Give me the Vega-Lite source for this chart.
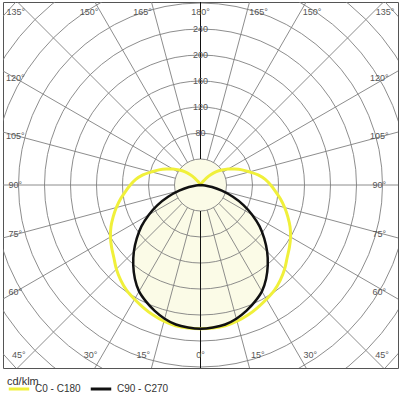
{
  "$schema": "https://vega.github.io/schema/vega-lite/v6.json",
  "width": 395,
  "height": 366,
  "padding": {"left": 3, "top": 2, "right": 2, "bottom": 0},
  "autosize": {"type": "pad"},
  "config": {
    "view": {"stroke": "#555555", "strokeWidth": 1},
    "font": "Liberation Sans"
  },
  "datasets": {
    "curves": [
      {"c": "C0 - C180", "g": -150, "i": 0},
      {"c": "C0 - C180", "g": -145, "i": 6},
      {"c": "C0 - C180", "g": -140, "i": 14},
      {"c": "C0 - C180", "g": -135, "i": 23},
      {"c": "C0 - C180", "g": -130, "i": 32},
      {"c": "C0 - C180", "g": -125, "i": 40},
      {"c": "C0 - C180", "g": -120, "i": 49},
      {"c": "C0 - C180", "g": -115, "i": 58},
      {"c": "C0 - C180", "g": -110, "i": 68},
      {"c": "C0 - C180", "g": -105, "i": 78},
      {"c": "C0 - C180", "g": -100, "i": 90},
      {"c": "C0 - C180", "g": -95, "i": 100},
      {"c": "C0 - C180", "g": -90, "i": 108},
      {"c": "C0 - C180", "g": -85, "i": 116},
      {"c": "C0 - C180", "g": -80, "i": 125},
      {"c": "C0 - C180", "g": -75, "i": 134},
      {"c": "C0 - C180", "g": -70, "i": 143},
      {"c": "C0 - C180", "g": -65, "i": 152},
      {"c": "C0 - C180", "g": -60, "i": 160},
      {"c": "C0 - C180", "g": -55, "i": 167},
      {"c": "C0 - C180", "g": -50, "i": 174},
      {"c": "C0 - C180", "g": -45, "i": 183},
      {"c": "C0 - C180", "g": -40, "i": 191},
      {"c": "C0 - C180", "g": -35, "i": 198},
      {"c": "C0 - C180", "g": -30, "i": 203},
      {"c": "C0 - C180", "g": -25, "i": 208},
      {"c": "C0 - C180", "g": -20, "i": 213},
      {"c": "C0 - C180", "g": -15, "i": 217},
      {"c": "C0 - C180", "g": -10, "i": 220},
      {"c": "C0 - C180", "g": -5, "i": 221},
      {"c": "C0 - C180", "g": 0, "i": 221},
      {"c": "C0 - C180", "g": 5, "i": 221},
      {"c": "C0 - C180", "g": 10, "i": 220},
      {"c": "C0 - C180", "g": 15, "i": 217},
      {"c": "C0 - C180", "g": 20, "i": 213},
      {"c": "C0 - C180", "g": 25, "i": 208},
      {"c": "C0 - C180", "g": 30, "i": 203},
      {"c": "C0 - C180", "g": 35, "i": 198},
      {"c": "C0 - C180", "g": 40, "i": 191},
      {"c": "C0 - C180", "g": 45, "i": 183},
      {"c": "C0 - C180", "g": 50, "i": 174},
      {"c": "C0 - C180", "g": 55, "i": 167},
      {"c": "C0 - C180", "g": 60, "i": 160},
      {"c": "C0 - C180", "g": 65, "i": 152},
      {"c": "C0 - C180", "g": 70, "i": 143},
      {"c": "C0 - C180", "g": 75, "i": 134},
      {"c": "C0 - C180", "g": 80, "i": 125},
      {"c": "C0 - C180", "g": 85, "i": 116},
      {"c": "C0 - C180", "g": 90, "i": 108},
      {"c": "C0 - C180", "g": 95, "i": 100},
      {"c": "C0 - C180", "g": 100, "i": 90},
      {"c": "C0 - C180", "g": 105, "i": 78},
      {"c": "C0 - C180", "g": 110, "i": 68},
      {"c": "C0 - C180", "g": 115, "i": 58},
      {"c": "C0 - C180", "g": 120, "i": 49},
      {"c": "C0 - C180", "g": 125, "i": 40},
      {"c": "C0 - C180", "g": 130, "i": 32},
      {"c": "C0 - C180", "g": 135, "i": 23},
      {"c": "C0 - C180", "g": 140, "i": 14},
      {"c": "C0 - C180", "g": 145, "i": 6},
      {"c": "C0 - C180", "g": 150, "i": 0},
      {"c": "C90 - C270", "g": -90, "i": 0},
      {"c": "C90 - C270", "g": -85, "i": 7},
      {"c": "C90 - C270", "g": -80, "i": 18},
      {"c": "C90 - C270", "g": -75, "i": 34},
      {"c": "C90 - C270", "g": -70, "i": 53},
      {"c": "C90 - C270", "g": -65, "i": 73},
      {"c": "C90 - C270", "g": -60, "i": 92},
      {"c": "C90 - C270", "g": -55, "i": 111},
      {"c": "C90 - C270", "g": -50, "i": 128},
      {"c": "C90 - C270", "g": -45, "i": 145},
      {"c": "C90 - C270", "g": -40, "i": 161},
      {"c": "C90 - C270", "g": -35, "i": 176},
      {"c": "C90 - C270", "g": -30, "i": 189},
      {"c": "C90 - C270", "g": -25, "i": 198},
      {"c": "C90 - C270", "g": -20, "i": 206},
      {"c": "C90 - C270", "g": -15, "i": 213},
      {"c": "C90 - C270", "g": -10, "i": 218},
      {"c": "C90 - C270", "g": -5, "i": 220},
      {"c": "C90 - C270", "g": 0, "i": 221},
      {"c": "C90 - C270", "g": 5, "i": 220},
      {"c": "C90 - C270", "g": 10, "i": 218},
      {"c": "C90 - C270", "g": 15, "i": 213},
      {"c": "C90 - C270", "g": 20, "i": 206},
      {"c": "C90 - C270", "g": 25, "i": 198},
      {"c": "C90 - C270", "g": 30, "i": 189},
      {"c": "C90 - C270", "g": 35, "i": 176},
      {"c": "C90 - C270", "g": 40, "i": 161},
      {"c": "C90 - C270", "g": 45, "i": 145},
      {"c": "C90 - C270", "g": 50, "i": 128},
      {"c": "C90 - C270", "g": 55, "i": 111},
      {"c": "C90 - C270", "g": 60, "i": 92},
      {"c": "C90 - C270", "g": 65, "i": 73},
      {"c": "C90 - C270", "g": 70, "i": 53},
      {"c": "C90 - C270", "g": 75, "i": 34},
      {"c": "C90 - C270", "g": 80, "i": 18},
      {"c": "C90 - C270", "g": 85, "i": 7},
      {"c": "C90 - C270", "g": 90, "i": 0}
    ],
    "circles": [
      {"r": 40}, {"r": 80}, {"r": 120}, {"r": 160}, {"r": 200},
      {"r": 240}, {"r": 280}, {"r": 320}, {"r": 360}, {"r": 400}, {"r": 440}
    ],
    "rays": [
      {"g": -165}, {"g": -150}, {"g": -135}, {"g": -120}, {"g": -105}, {"g": -90},
      {"g": -75}, {"g": -60}, {"g": -45}, {"g": -30}, {"g": -15}, {"g": 0},
      {"g": 15}, {"g": 30}, {"g": 45}, {"g": 60}, {"g": 75}, {"g": 90},
      {"g": 105}, {"g": 120}, {"g": 135}, {"g": 150}, {"g": 165}, {"g": 180}
    ],
    "sideLabels": [
      {"t": "120°", "g": -120}, {"t": "105°", "g": -105}, {"t": "90°", "g": -90},
      {"t": "75°", "g": -75}, {"t": "60°", "g": -60},
      {"t": "120°", "g": 120}, {"t": "105°", "g": 105}, {"t": "90°", "g": 90},
      {"t": "75°", "g": 75}, {"t": "60°", "g": 60}
    ],
    "edgeLabels": [
      {"t": "135°", "g": -135}, {"t": "150°", "g": -150}, {"t": "165°", "g": -165},
      {"t": "180°", "g": 180}, {"t": "165°", "g": 165}, {"t": "150°", "g": 150},
      {"t": "135°", "g": 135},
      {"t": "45°", "g": -45}, {"t": "30°", "g": -30}, {"t": "15°", "g": -15},
      {"t": "0°", "g": 0}, {"t": "15°", "g": 15}, {"t": "30°", "g": 30},
      {"t": "45°", "g": 45}
    ],
    "valueLabels": [
      {"v": 80}, {"v": 120}, {"v": 160}, {"v": 200}, {"v": 240}
    ]
  },
  "layer": [
    {
      "data": {"name": "curves"},
      "transform": [
        {"filter": "datum.c == 'C90 - C270'"},
        {"calculate": "datum.i*sin(datum.g*PI/180)", "as": "x"},
        {"calculate": "-datum.i*cos(datum.g*PI/180)", "as": "y"}
      ],
      "mark": {"type": "line", "fill": "#fbfbe7", "strokeOpacity": 0},
      "encoding": {
        "x": {"field": "x", "type": "quantitative", "scale": {"domain": [-303.85, 303.85], "nice": false, "zero": false}, "axis": null},
        "y": {"field": "y", "type": "quantitative", "scale": {"domain": [-281.54, 281.54], "nice": false, "zero": false}, "axis": null},
        "order": {"field": "g", "type": "quantitative"}
      }
    },
    {
      "data": {"name": "circles"},
      "transform": [{"filter": "datum.r == 40"}],
      "mark": {"type": "arc", "theta": 0, "theta2": 6.2832, "fill": "#fbfbe7"},
      "encoding": {
        "radius": {"field": "r", "type": "quantitative", "stack": null, "scale": {"type": "linear", "domain": [0, 400], "range": [0, 260], "zero": true}}
      }
    },
    {
      "data": {"name": "circles"},
      "mark": {"type": "arc", "theta": 0, "theta2": 6.2832, "filled": false, "stroke": "#808080", "strokeWidth": 0.9, "clip": true},
      "encoding": {
        "radius": {"field": "r", "type": "quantitative", "stack": null, "scale": {"type": "linear", "domain": [0, 400], "range": [0, 260], "zero": true}}
      }
    },
    {
      "data": {"name": "rays"},
      "transform": [
        {"filter": "datum.g != 0 && datum.g != 180"},
        {"calculate": "40*sin(datum.g*PI/180)", "as": "x"},
        {"calculate": "-40*cos(datum.g*PI/180)", "as": "y"},
        {"calculate": "900*sin(datum.g*PI/180)", "as": "x2"},
        {"calculate": "-900*cos(datum.g*PI/180)", "as": "y2"}
      ],
      "mark": {"type": "rule", "stroke": "#808080", "strokeWidth": 0.9, "clip": true},
      "encoding": {
        "x": {"field": "x", "type": "quantitative"},
        "y": {"field": "y", "type": "quantitative"},
        "x2": {"field": "x2"},
        "y2": {"field": "y2"}
      }
    },
    {
      "data": {"name": "rays"},
      "transform": [
        {"filter": "datum.g == 0 || datum.g == 180"},
        {"calculate": "40*sin(datum.g*PI/180)", "as": "x"},
        {"calculate": "-40*cos(datum.g*PI/180)", "as": "y"},
        {"calculate": "900*sin(datum.g*PI/180)", "as": "x2"},
        {"calculate": "-900*cos(datum.g*PI/180)", "as": "y2"}
      ],
      "mark": {"type": "rule", "stroke": "#111111", "strokeWidth": 1, "clip": true},
      "encoding": {
        "x": {"field": "x", "type": "quantitative"},
        "y": {"field": "y", "type": "quantitative"},
        "x2": {"field": "x2"},
        "y2": {"field": "y2"}
      }
    },
    {
      "data": {"name": "curves"},
      "transform": [
        {"filter": "datum.c == 'C0 - C180'"},
        {"calculate": "datum.i*sin(datum.g*PI/180)", "as": "x"},
        {"calculate": "-datum.i*cos(datum.g*PI/180)", "as": "y"}
      ],
      "mark": {"type": "line", "strokeWidth": 3, "interpolate": "catmull-rom"},
      "encoding": {
        "x": {"field": "x", "type": "quantitative"},
        "y": {"field": "y", "type": "quantitative"},
        "order": {"field": "g", "type": "quantitative"},
        "stroke": {
          "field": "c", "type": "nominal",
          "scale": {"domain": ["C0 - C180", "C90 - C270"], "range": ["#f0f03a", "#111111"]},
          "legend": {
            "title": "cd/klm", "orient": "none", "legendX": 4, "legendY": 374,
            "direction": "horizontal", "titleFontSize": 11, "titleFontWeight": "normal",
            "titleColor": "#333333", "titlePadding": -10, "labelFontSize": 10, "labelColor": "#333333",
            "symbolType": "stroke", "symbolSize": 420, "symbolStrokeWidth": 3,
            "labelOffset": 4, "columnPadding": 3
          }
        }
      }
    },
    {
      "data": {"name": "curves"},
      "transform": [
        {"filter": "datum.c == 'C90 - C270'"},
        {"calculate": "datum.i*sin(datum.g*PI/180)", "as": "x"},
        {"calculate": "-datum.i*cos(datum.g*PI/180)", "as": "y"}
      ],
      "mark": {"type": "line", "strokeWidth": 2.5, "interpolate": "catmull-rom"},
      "encoding": {
        "x": {"field": "x", "type": "quantitative"},
        "y": {"field": "y", "type": "quantitative"},
        "order": {"field": "g", "type": "quantitative"},
        "stroke": {"field": "c", "type": "nominal"}
      }
    },
    {
      "data": {"name": "sideLabels"},
      "transform": [
        {"calculate": "datum.g < 0 ? -285 : 275", "as": "x"},
        {"calculate": "-284*cos(datum.g*PI/180)/abs(sin(datum.g*PI/180))", "as": "y"}
      ],
      "mark": {"type": "text", "fontSize": 9, "color": "#555555", "align": "center", "baseline": "middle"},
      "encoding": {
        "x": {"field": "x", "type": "quantitative"},
        "y": {"field": "y", "type": "quantitative"},
        "text": {"field": "t"}
      }
    },
    {
      "data": {"name": "edgeLabels"},
      "transform": [
        {"calculate": "abs(datum.g) > 90 ? 266 : -261.5", "as": "y"},
        {"calculate": "(datum.g == 0 || abs(datum.g) == 180) ? 0 : (-datum.y*tan(datum.g*PI/180) + (datum.g < 0 ? -18 : 18))", "as": "x"}
      ],
      "mark": {"type": "text", "fontSize": 9, "color": "#555555", "align": "center", "baseline": "middle"},
      "encoding": {
        "x": {"field": "x", "type": "quantitative"},
        "y": {"field": "y", "type": "quantitative"},
        "text": {"field": "t"}
      }
    },
    {
      "data": {"name": "valueLabels"},
      "mark": {"type": "text", "fontSize": 9, "color": "#555555", "align": "center", "baseline": "middle"},
      "encoding": {
        "x": {"datum": 0, "type": "quantitative"},
        "y": {"field": "v", "type": "quantitative"},
        "text": {"field": "v", "type": "quantitative"}
      }
    }
  ]
}
